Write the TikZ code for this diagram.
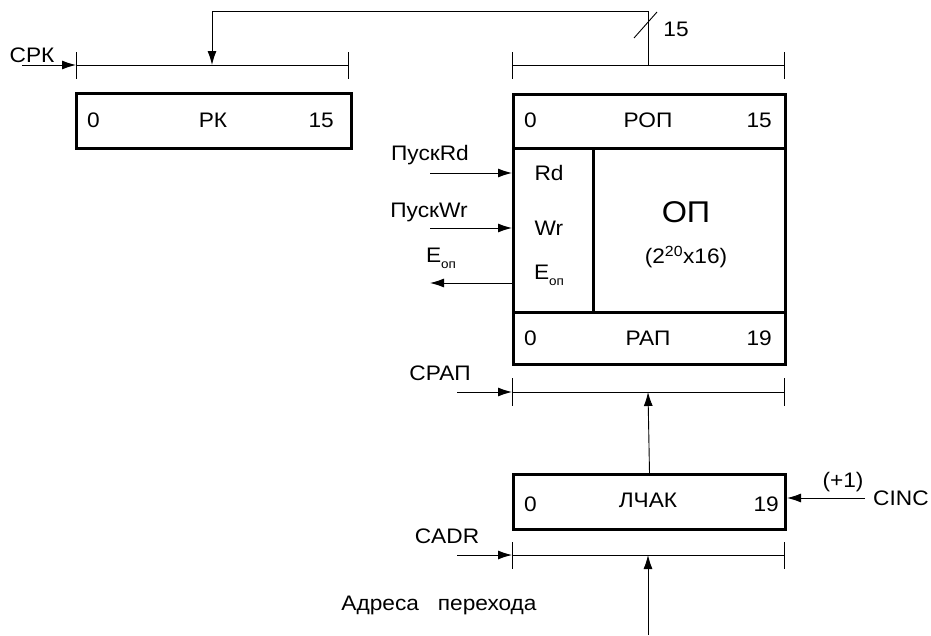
\documentclass[tikz,border=0pt]{standalone}
\usepackage{fontspec}
\setmainfont[FakeStretch=1.08]{Liberation Sans}
\usetikzlibrary{arrows.meta}
\newcommand{\subop}{{\raisebox{-0.3em}{\fontsize{12.5}{12.5}\selectfont оп}}}
\begin{document}
\begin{tikzpicture}[x=1pt,y=-1pt,
  every node/.style={font=\fontsize{21}{25}\selectfont, inner sep=0pt},
  reg/.style={draw, line width=3pt, rectangle, anchor=north west},
  thin/.style={line width=0.9pt},
  arr/.style={thin, -{Latex[length=14pt,width=9pt]}},
  tick/.style={thin}
]
\useasboundingbox (0,0) rectangle (931,635);

% ---- RK register ----
\node[reg, minimum width=275pt, minimum height=55pt] (rk) at (75,92) {};
\node[anchor=west] (rk0) at (87,120) {0};
\node (rkn) at (213,120) {РК};
\node[anchor=east] (rk15) at (334,120) {15};

% RK bus
\coordinate (rkbL) at (76,65);
\coordinate (rkbR) at (348,65);
\draw[thin] (rkbL) -- (rkbR);
\draw[tick] (76,52) -- (76,79);
\draw[tick] (348,52) -- (348,79);
\coordinate (srkS) at (22,65);
\draw[arr] (srkS) -- (rkbL);
\node (srk) at (32,55) {СРК};

% ---- Memory block ----
\node[reg, minimum width=272pt, minimum height=54pt] (rop) at (512,93) {};
\node[reg, minimum width=80pt, minimum height=164pt] (ctl) at (512,147) {};
\node[reg, minimum width=192pt, minimum height=164pt] (op) at (592,147) {};
\node[reg, minimum width=272pt, minimum height=52pt] (rap) at (512,311) {};

\node[anchor=west] (rop0) at (524,120) {0};
\node (ropn) at (648,120) {РОП};
\node[anchor=east] (rop15) at (772,120) {15};

\node (rd) at (549,173) {Rd};
\node (wr) at (549,228) {Wr};
\node (eop) at (549,275) {E\subop};
\node[font=\fontsize{30}{34}\selectfont] (opn) at (686,212) {ОП};
\node (opsz) at (686,257) {(2\textsuperscript{20}x16)};

\node[anchor=west] (rap0) at (524,338) {0};
\node (rapn) at (648,338) {РАП};
\node[anchor=east] (rap19) at (772,338) {19};

% control inputs
\coordinate (rdS) at (430,173);
\coordinate (wrS) at (430,228);
\coordinate (eE) at (430,283);
\draw[arr] (rdS) -- (rdS -| ctl.west);
\draw[arr] (wrS) -- (wrS -| ctl.west);
\draw[arr] (eE -| ctl.west) -- (eE);
\node (pRd) at (430,155) {ПускRd};
\node (pWr) at (429,212) {ПускWr};
\node (eopl) at (441,258) {E\subop};

% ROP bus
\coordinate (ropbL) at (512,65);
\coordinate (ropbR) at (784,65);
\draw[thin] (ropbL) -- (ropbR);
\draw[tick] (512,52) -- (512,79);
\draw[tick] (784,52) -- (784,79);

% feedback to RK
\coordinate (fbA) at (648,65);
\coordinate (fbB) at (648,11);
\coordinate (fbC) at (212,11);
\coordinate (fbD) at (212,65);
\draw[thin] (fbA) -- (fbB) -- (fbC);
\draw[arr] (fbC) -- (fbD);
\draw[thin] (634,38) -- (657,12);
\node (n15) at (676,29) {15};

% ---- RAP bus ----
\coordinate (rapbL) at (512,392);
\coordinate (rapbR) at (784,392);
\coordinate (rapbM) at (648,392);
\draw[thin] (rapbL) -- (rapbR);
\draw[tick] (512,378) -- (512,406);
\draw[tick] (784,378) -- (784,406);
\coordinate (srapS) at (457,392);
\draw[arr] (srapS) -- (rapbL);
\node (srap) at (440,373) {СРАП};

% ---- LCHAK ----
\node[reg, minimum width=272pt, minimum height=55pt] (lchak) at (512,473) {};
\node[anchor=west] (l0) at (524,504) {0};
\node (lchn) at (648,500) {ЛЧАК};
\node[anchor=east] (l19) at (779,504) {19};
\draw[arr] (lchak.north) -- (rapbM);

\coordinate (cincS) at (865,498);
\draw[arr] (cincS) -- (cincS -| lchak.east);
\node (p1) at (843,482) {(+1)};
\node[anchor=west] (cinc) at (873,498) {CINC};

% ---- CADR bus ----
\coordinate (cadrL) at (512,555);
\coordinate (cadrR) at (784,555);
\coordinate (cadrM) at (648,555);
\draw[thin] (cadrL) -- (cadrR);
\draw[tick] (512,542) -- (512,569);
\draw[tick] (784,542) -- (784,569);
\coordinate (cadrS) at (457,555);
\draw[arr] (cadrS) -- (cadrL);
\node (cadr) at (447,536) {CADR};

\coordinate (jmpS) at (648,635);
\draw[arr] (jmpS) -- (cadrM);
\node (jmp) at (439,605) {Адреса\hspace{0.9em}перехода};
\end{tikzpicture}
\end{document}
